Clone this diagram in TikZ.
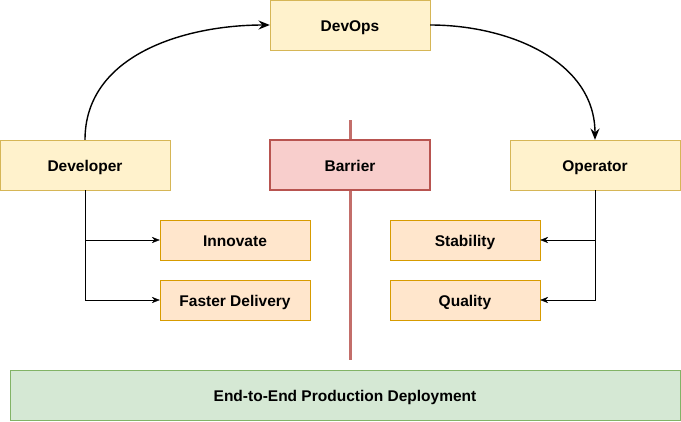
\documentclass[tikz,border=0pt]{standalone}
\usepackage{fontspec}
\setmainfont{Liberation Sans}
\usetikzlibrary{arrows.meta,positioning}
\definecolor{yelfill}{HTML}{FFF2CC}
\definecolor{yeldraw}{HTML}{D6B656}
\definecolor{orfill}{HTML}{FFE6CC}
\definecolor{ordraw}{HTML}{D79B00}
\definecolor{grfill}{HTML}{D5E8D4}
\definecolor{grdraw}{HTML}{82B366}
\definecolor{redfill}{HTML}{F8CECC}
\definecolor{reddraw}{HTML}{B85450}

\begin{document}
\begin{tikzpicture} [x=1pt,y=-1pt,{role/.style={rectangle,draw=yeldraw,fill=yelfill,thin,minimum width=160pt,minimum height=50pt,inner sep=0pt,text height=13pt,text depth=0.5pt,font=\bfseries\fontsize{15.5}{18}\selectfont}},{goal/.style={role,draw=ordraw,fill=orfill,minimum width=150pt,minimum height=40pt}},{linest/.style={color=black,thin}}]
		\useasboundingbox (0,0) rectangle (681,421);
		%%barrier wall
		\draw [reddraw!85,line width=3pt] (350,120) -- (350,360);
		%%roles
		\node at (350,25) [role] (devops) {DevOps};
		\node at (85,165) [role, minimum width=170pt] (dev) {Developer};
		\node at (595,165) [role, minimum width=170pt] (op) {Operator};
		\node at (350,165) [role, draw=reddraw, fill=redfill, line width=1.5pt] (barrier) {Barrier};
		%%goals
		\node at (235,240) [goal] (innov) {Innovate};
		\node at (235,300) [goal] (fast) {Faster Delivery};
		\node at (465,240) [goal] (stab) {Stability};
		\node at (465,300) [goal] (qual) {Quality};
		%%base
		\node at (345,395) [role, draw=grdraw, fill=grfill, minimum width=670pt] (e2e) {End-to-End Production Deployment};
		%%curved flow
		\draw [-{Stealth[length=4mm,width=3.2mm,inset=1.4mm]}, line width=1.4pt] (dev.north) to[out=90,in=180] (devops.west);
		\draw [-{Stealth[length=4mm,width=3.2mm,inset=1.4mm]}, line width=1.4pt] (devops.east) to[out=0,in=90] (op.north);
		%%branches
		\draw [linest,-{Stealth[length=2.8mm,width=2.2mm,inset=0.9mm]}] (dev.south) |- (innov.west);
		\draw [linest,-{Stealth[length=2.8mm,width=2.2mm,inset=0.9mm]}] (dev.south) |- (fast.west);
		\draw [linest,-{Stealth[length=2.8mm,width=2.2mm,inset=0.9mm]}] (op.south) |- (stab.east);
		\draw [linest,-{Stealth[length=2.8mm,width=2.2mm,inset=0.9mm]}] (op.south) |- (qual.east);
	\end{tikzpicture}
\end{document}
